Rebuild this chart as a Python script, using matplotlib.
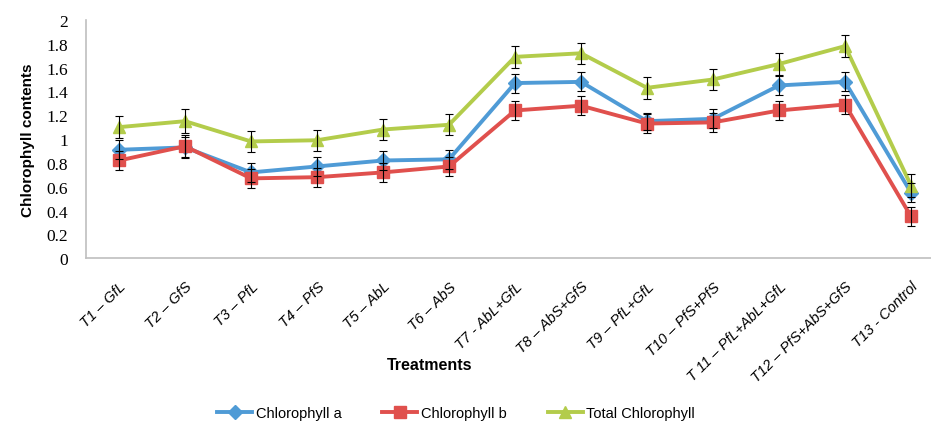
import matplotlib
matplotlib.use("Agg")
import matplotlib.pyplot as plt
import numpy as np

# treatments and mean chlorophyll contents
treatments = ["T1 \u2013 GfL", "T2 \u2013 GfS", "T3 \u2013 PfL", "T4 \u2013 PfS", "T5 \u2013 AbL",
              "T6 \u2013 AbS", "T7 - AbL+GfL", "T8 \u2013 AbS+GfS", "T9 \u2013 PfL+GfL",
              "T10 \u2013 PfS+PfS", "T 11 \u2013 PfL+AbL+GfL", "T12 \u2013 PfS+AbS+GfS", "T13 - Control"]
chl_a = [0.91, 0.93, 0.72, 0.77, 0.82, 0.83, 1.47, 1.48, 1.15, 1.17, 1.45, 1.48, 0.55]
chl_b = [0.82, 0.94, 0.67, 0.68, 0.72, 0.77, 1.24, 1.28, 1.13, 1.14, 1.24, 1.29, 0.35]
chl_total = [1.10, 1.15, 0.98, 0.99, 1.08, 1.12, 1.69, 1.72, 1.43, 1.50, 1.63, 1.78, 0.61]
err_a = [0.08, 0.09, 0.08, 0.08, 0.08, 0.08, 0.08, 0.08, 0.07, 0.08, 0.08, 0.08, 0.08]
err_b = [0.08, 0.09, 0.08, 0.08, 0.08, 0.08, 0.08, 0.08, 0.08, 0.08, 0.08, 0.08, 0.08]
err_total = [0.09, 0.10, 0.09, 0.09, 0.09, 0.09, 0.09, 0.09, 0.09, 0.09, 0.09, 0.09, 0.10]

x = np.arange(len(treatments))

fig = plt.figure(figsize=(9.31, 4.27), dpi=100)
ax = fig.add_axes([0.0924, 0.393, 0.9216, 0.558])

series = [
    (chl_a, err_a, "#4F9BD6", "D", 7, "Chlorophyll a"),
    (chl_b, err_b, "#E0504D", "s", 9, "Chlorophyll b"),
    (chl_total, err_total, "#B3CC4B", "^", 9, "Total Chlorophyll"),
]
for vals, errs, col, mk, ms, lab in series:
    ax.plot(x, vals, color=col, marker=mk, markersize=ms, linewidth=2.8, label=lab, zorder=2)
    ax.errorbar(x, vals, yerr=errs, fmt="none", ecolor="black", elinewidth=0.8,
                capsize=3, capthick=0.8, zorder=3)

ax.set_xlim(-0.5, 12.5)
ax.set_ylim(0, 2)
ax.set_yticks(np.arange(0, 2.01, 0.2))
ax.set_yticklabels(["0", "0.2", "0.4", "0.6", "0.8", "1", "1.2", "1.4", "1.6", "1.8", "2"],
                   fontfamily="Liberation Serif", fontsize=12.5)
ax.set_xticks(x)
ax.set_xticklabels(treatments, rotation=45, ha="right", va="top", rotation_mode="anchor",
                   fontfamily="Liberation Sans", style="italic", fontsize=10.5)
ax.tick_params(axis="y", length=0, pad=13)
ax.tick_params(axis="x", length=0, pad=15)

for s in ["top", "right"]:
    ax.spines[s].set_visible(False)
for s in ["left", "bottom"]:
    ax.spines[s].set_color("#BFBFBF")
    ax.spines[s].set_linewidth(1.2)

ax.set_ylabel("Chlorophyll contents", fontfamily="Liberation Sans", fontweight="bold",
              fontsize=11, labelpad=8)
fig.text(0.462, 0.145, "Treatments", ha="center", va="center",
         fontfamily="Liberation Sans", fontweight="bold", fontsize=11.5)

leg = fig.legend(loc="center", bbox_to_anchor=(0.49, 0.03), ncol=3, frameon=False,
                 prop={"family": "Liberation Sans", "size": 10.5},
                 handlelength=2.4, handletextpad=0.25, columnspacing=2.8)

fig.savefig("out.png", dpi=100)
